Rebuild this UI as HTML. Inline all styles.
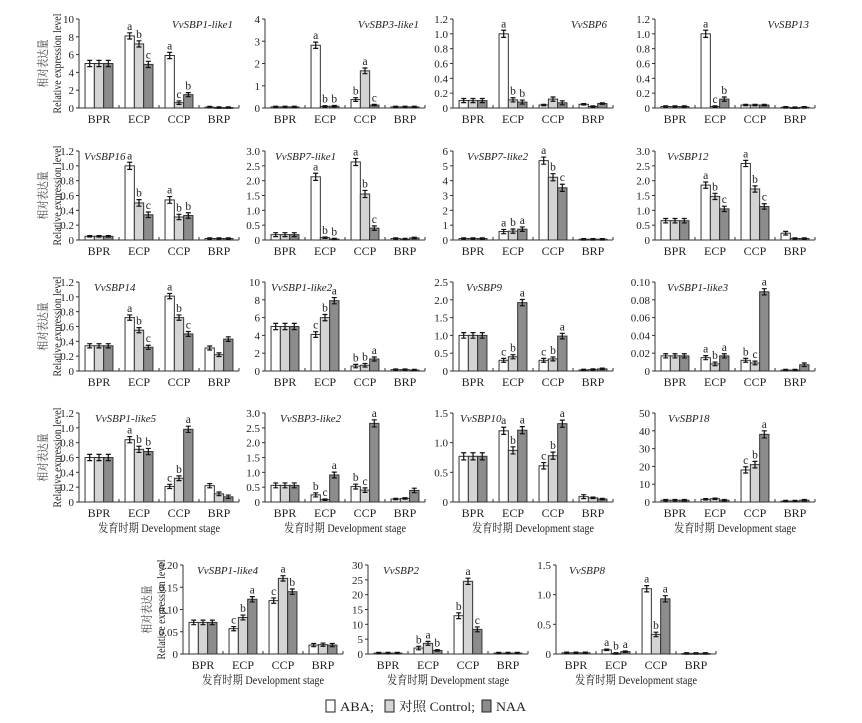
<!DOCTYPE html>
<html><head><meta charset="utf-8"><style>
html,body{margin:0;padding:0;background:#fff;}
svg, svg text{font-family:"Liberation Serif","Noto Serif CJK SC",serif;}
</style></head>
<body>
<svg id="chart" width="862" height="718" viewBox="0 0 862 718" xmlns="http://www.w3.org/2000/svg" font-family="'Liberation Serif', 'Noto Serif CJK SC', serif"></svg>
<script>
const categories = ["BPR","ECP","CCP","BRP"];
const seriesNames = ["ABA","对照 Control","NAA"];
const genes = ["VvSBP1-like1","VvSBP3-like1","VvSBP6","VvSBP13",
"VvSBP16","VvSBP7-like1","VvSBP7-like2","VvSBP12",
"VvSBP14","VvSBP1-like2","VvSBP9","VvSBP1-like3",
"VvSBP1-like5","VvSBP3-like2","VvSBP10","VvSBP18",
"VvSBP1-like4","VvSBP2","VvSBP8"];
const yMax = [10,4,1.2,1.2, 1.2,3,6,3, 1.2,10,2.5,0.1, 1.2,3,1.5,50, 0.2,30,1.5];
const tickLabels = [
["0","2","4","6","8","10"],["0","1","2","3","4"],["0","0.2","0.4","0.6","0.8","1.0","1.2"],["0","0.2","0.4","0.6","0.8","1.0","1.2"],
["0","0.2","0.4","0.6","0.8","1.0","1.2"],["0","0.5","1.0","1.5","2.0","2.5","3.0"],["0","1","2","3","4","5","6"],["0","0.5","1.0","1.5","2.0","2.5","3.0"],
["0","0.2","0.4","0.6","0.8","1.0","1.2"],["0","2","4","6","8","10"],["0","0.5","1.0","1.5","2.0","2.5"],["0","0.02","0.04","0.06","0.08","0.10"],
["0","0.2","0.4","0.6","0.8","1.0","1.2"],["0","0.5","1.0","1.5","2.0","2.5","3.0"],["0","0.5","1.0","1.5"],["0","10","20","30","40","50"],
["0","0.05","0.10","0.15","0.20"],["0","5","10","15","20","25","30"],["0","0.5","1.0","1.5"]];
const abaVals = [
[5,8.1,5.9,0.1],[0.05,2.82,0.38,0.05],[0.1,1.0,0.04,0.05],[0.02,1.0,0.04,0.01],
[0.05,1.0,0.54,0.02],[0.18,2.13,2.63,0.05],[0.1,0.57,5.35,0.05],[0.65,1.85,2.58,0.23],
[0.34,0.72,1.01,0.31],[5,4.1,0.55,0.15],[1.0,0.3,0.3,0.03],[0.017,0.015,0.012,0.001],
[0.6,0.84,0.21,0.22],[0.56,0.24,0.52,0.1],[0.77,1.2,0.61,0.09],[1,1.5,18,0.5],
[0.071,0.057,0.12,0.02],[0.3,2.0,12.9,0.3],[0.02,0.07,1.1,0.01]];
const ctrlVals = [
[5,7.2,0.6,0.05],[0.05,0.07,1.67,0.05],[0.1,0.11,0.12,0.02],[0.02,0.02,0.04,0.005],
[0.05,0.5,0.31,0.02],[0.18,0.08,1.55,0.03],[0.1,0.6,4.23,0.05],[0.65,1.47,1.72,0.05],
[0.34,0.55,0.72,0.22],[5,6.0,0.65,0.15],[1.0,0.4,0.34,0.04],[0.017,0.008,0.009,0.001],
[0.6,0.71,0.32,0.11],[0.56,0.08,0.4,0.12],[0.77,0.87,0.78,0.07],[1,1.8,21,0.5],
[0.071,0.082,0.17,0.021],[0.3,3.6,24.5,0.3],[0.02,0.01,0.33,0.01]];
const naaVals = [
[5,4.9,1.5,0.05],[0.05,0.08,0.13,0.05],[0.1,0.08,0.07,0.06],[0.02,0.12,0.04,0.01],
[0.05,0.34,0.33,0.02],[0.18,0.03,0.4,0.07],[0.1,0.73,3.52,0.05],[0.65,1.05,1.13,0.05],
[0.34,0.32,0.5,0.43],[5,7.9,1.35,0.1],[1.0,1.92,0.98,0.06],[0.017,0.017,0.089,0.007],
[0.6,0.68,0.98,0.07],[0.56,0.91,2.65,0.39],[0.77,1.21,1.32,0.05],[1,1,38,1],
[0.071,0.123,0.14,0.02],[0.3,1.2,8.3,0.3],[0.02,0.04,0.93,0.01]];
const errFrac = [0.035,0.035,0.04,0.04, 0.04,0.04,0.04,0.035, 0.03,0.035,0.035,0.035, 0.035,0.04,0.04,0.04, 0.03,0.035,0.035];
const letterABA = [
["","a","a",""],["","a","b",""],["","a","",""],["","a","",""],
["","a","a",""],["","a","a",""],["","a","a",""],["","a","a",""],
["","a","a",""],["","c","b",""],["","c","c",""],["","a","b",""],
["","a","c",""],["","b","b",""],["","a","c",""],["","","c",""],
["","c","c",""],["","b","b",""],["","a","a",""]];
const letterCtrl = [
["","b","c",""],["","b","a",""],["","b","",""],["","c","",""],
["","b","b",""],["","b","b",""],["","b","b",""],["","b","b",""],
["","b","b",""],["","b","b",""],["","b","b",""],["","b","c",""],
["","b","b",""],["","c","c",""],["","b","b",""],["","","b",""],
["","b","a",""],["","a","a",""],["","b","b",""]];
const letterNAA = [
["","c","b",""],["","b","c",""],["","b","",""],["","b","",""],
["","c","b",""],["","b","c",""],["","a","c",""],["","c","c",""],
["","c","c",""],["","a","a",""],["","a","a",""],["","a","a",""],
["","b","a",""],["","a","a",""],["","a","a",""],["","","a",""],
["","a","b",""],["","b","c",""],["","a","a",""]];

// layout (not data)
const panelX = [79,265,453,655, 79,265,453,655, 79,265,453,655, 79,265,453,655, 183,368,556];
const panelY = [19,19,19,19, 151,151,151,151, 282,282,282,282, 413,413,413,413, 565,565,565];
const PW = 160, PH = 89;
const fills = ["#ffffff","#d4d4d4","#8c8c8c"];
const labelOffset = [0,0,0,0, 5,10,14,12, 15,6,13,12, 16,15,7,13, 14,15,13];
const FONT = "'Liberation Serif', 'Noto Serif CJK SC', serif";

const svg = document.getElementById('chart');
const NS = "http://www.w3.org/2000/svg";
function mk(tag, attrs, parent){
  const e = document.createElementNS(NS, tag);
  for (const k in attrs) e.setAttribute(k, attrs[k]);
  if (tag === 'text') e.setAttribute('font-family', FONT);
  (parent||svg).appendChild(e);
  return e;
}

genes.forEach((gene, p) => {
  const g = mk('g', {});
  
  
  const x0 = panelX[p], y0 = panelY[p], yb = y0 + PH;
  const ys = v => yb - v / yMax[p] * PH;
  const gw = PW / 4, bw = 9.3;
  const ax = mk('path', {d:`M${x0},${y0} L${x0},${yb} L${x0+PW},${yb}`, fill:'none', stroke:'#333', 'stroke-width':1}, g);
  
  
  const n = tickLabels[p].length;
  tickLabels[p].forEach((t, i) => {
    const v = yMax[p] * i / (n - 1);
    const y = ys(v);
    mk('line', {x1:x0-3, x2:x0, y1:y, y2:y, stroke:'#333', 'stroke-width':1}, g);
    const tx = mk('text', {x:x0-5, y:y+4, 'text-anchor':'end', 'font-size':11, fill:'#222'}, g);
    tx.textContent = t;
    
    
  });
  for (let i = 1; i <= 4; i++) {
    mk('line', {x1:x0+gw*i, x2:x0+gw*i, y1:yb, y2:yb-3, stroke:'#333', 'stroke-width':1}, g);
  }
  categories.forEach((c, ci) => {
    const cx = x0 + gw * (ci + 0.5);
    const tx = mk('text', {x:cx, y:yb+15, 'text-anchor':'middle', 'font-size':12, fill:'#222'}, g);
    tx.textContent = c;
    
    
    const vals = [abaVals[p][ci], ctrlVals[p][ci], naaVals[p][ci]];
    const lets = [letterABA[p][ci], letterCtrl[p][ci], letterNAA[p][ci]];
    vals.forEach((v, si) => {
      const bx = cx - 1.5 * bw + si * bw;
      const y = ys(v);
      const r = mk('rect', {x:bx, y:y, width:bw, height:Math.max(yb - y, 0.8), fill:fills[si], stroke:'#333', 'stroke-width':1}, g);
      
      
      const e = v > yMax[p] * 0.05 ? yMax[p] * errFrac[p] * Math.min(1, 0.5 + v / yMax[p]) : yMax[p] * 0.008;
      const et = ys(v + e), eb = ys(Math.max(v - e, 0));
      const ex = bx + bw / 2;
      mk('path', {d:`M${ex},${et} L${ex},${eb} M${ex-2.5},${et} L${ex+2.5},${et} M${ex-2.5},${eb} L${ex+2.5},${eb}`, stroke:'#111', 'stroke-width':1.2, fill:'none'}, g);
      if (lets[si]) {
        const lt = mk('text', {x:ex, y:et-3, 'text-anchor':'middle', 'font-size':11.5, fill:'#222'}, g);
        lt.textContent = lets[si];
        
        
      }
    });
  });
  let gt;
  if (p < 4) gt = mk('text', {x:x0+PW-6, y:y0+9, 'text-anchor':'end', 'font-size':11, 'font-style':'italic', fill:'#222'}, g);
  else gt = mk('text', {x:x0+labelOffset[p], y:y0+9, 'text-anchor':'start', 'font-size':11, 'font-style':'italic', fill:'#222'}, g);
  gt.textContent = gene;
  
  
  if (p >= 12) {
    const xt = mk('text', {x:x0+PW/2-61, y:yb+30, 'font-size':12, fill:'#222', textLength:122, lengthAdjust:'spacingAndGlyphs'}, g);
    xt.textContent = '发育时期 Development stage';
    
    
  }
  if (p % 4 === 0 && p < 16 || p === 16) {
    const cy = y0 + PH / 2;
    const cx1 = x0 - 36, cx2 = x0 - 22;
    const t1 = mk('text', {x:cx1 - 24, y:cy + 4, 'font-size':12, fill:'#444', textLength:48, lengthAdjust:'spacingAndGlyphs', transform:`rotate(-90 ${cx1} ${cy})`}, g);
    t1.textContent = '相对表达量';
    
    
    const t2 = mk('text', {x:cx2 - 50, y:cy + 4, 'font-size':12, fill:'#222', textLength:100, lengthAdjust:'spacingAndGlyphs', transform:`rotate(-90 ${cx2} ${cy})`}, g);
    t2.textContent = 'Relative expression level';
    
    
  }
});

const lg = mk('g', {});


const legX = [326, 385, 482];
const legText = ['ABA;', '对照 Control;', 'NAA'];
const legLen = [34, 76, 30];
legX.forEach((lx, i) => {
  const r = mk('rect', {x:lx, y:700, width:9, height:12, fill:fills[i], stroke:'#222', 'stroke-width':1}, lg);
  
  
  const t = mk('text', {x:lx+14, y:711, 'font-size':13, fill:'#222', textLength:legLen[i], lengthAdjust:'spacingAndGlyphs'}, lg);
  t.textContent = legText[i];
  
  
});
</script>
</body></html>
